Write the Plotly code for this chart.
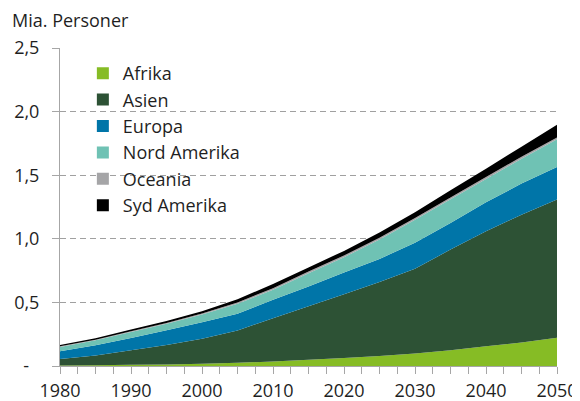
import plotly.graph_objects as go

years = [1980, 1985, 1990, 1995, 2000, 2005, 2010, 2015, 2020, 2025, 2030, 2035, 2040, 2045, 2050]

afrika = [0.004, 0.006, 0.009, 0.012, 0.017, 0.025, 0.036, 0.049, 0.063, 0.078, 0.098, 0.124, 0.155, 0.185, 0.222]
asien = [0.051, 0.077, 0.115, 0.154, 0.197, 0.255, 0.339, 0.421, 0.502, 0.582, 0.667, 0.791, 0.905, 1.005, 1.086]
europa = [0.061, 0.080, 0.097, 0.115, 0.130, 0.130, 0.145, 0.155, 0.170, 0.182, 0.203, 0.210, 0.227, 0.244, 0.257]
nord_amerika = [0.034, 0.039, 0.047, 0.051, 0.061, 0.080, 0.080, 0.105, 0.120, 0.153, 0.182, 0.185, 0.183, 0.196, 0.217]
oceania = [0.005, 0.005, 0.006, 0.007, 0.008, 0.010, 0.011, 0.012, 0.013, 0.013, 0.013, 0.014, 0.015, 0.015, 0.015]
syd_amerika = [0.010, 0.011, 0.013, 0.015, 0.018, 0.024, 0.034, 0.033, 0.037, 0.042, 0.045, 0.057, 0.066, 0.079, 0.100]

series_names = ["Afrika", "Asien", "Europa", "Nord Amerika", "Oceania", "Syd Amerika"]
series_values = [afrika, asien, europa, nord_amerika, oceania, syd_amerika]
series_colors = ["#86bc25", "#2d5235", "#0075a8", "#6fc2b4", "#a5a5a7", "#000000"]

y_tickvals = [0, 0.5, 1.0, 1.5, 2.0, 2.5]
y_ticktext = ["-\u2007", "0,5", "1,0", "1,5", "2,0", "2,5"]
x_tickvals = [1980, 1990, 2000, 2010, 2020, 2030, 2040, 2050]

FONT = "Open Sans, Noto Sans, sans-serif"
TXT = "#1f1f1f"
AXC = "#a6a6a6"

# page body has an 8px default margin, so the figure is sized/offset to fit the window
W, H = 572, 393

fig = go.Figure()
for name, vals, col in zip(series_names, series_values, series_colors):
    fig.add_trace(go.Scatter(
        x=years, y=vals, name=name, stackgroup="one", mode="none",
        fillcolor=col, showlegend=False,
    ))
for name, col in zip(series_names, series_colors):
    fig.add_trace(go.Scatter(
        x=[None], y=[None], name=name, mode="markers", legendgroup=name,
        marker=dict(symbol="square", size=12, color=col),
    ))

fig.update_layout(
    width=W, height=H,
    margin=dict(l=52, r=23, t=40, b=35),
    paper_bgcolor="white", plot_bgcolor="white",
    font=dict(family=FONT, size=18, color=TXT),
    title=dict(text="Mia. Personer", x=4 / W, xanchor="left", xref="container",
               y=1 - 13 / H, yanchor="middle", yref="container",
               pad=dict(l=0, r=0, t=0, b=0),
               font=dict(family=FONT, size=18, color=TXT)),
    legend=dict(x=0.046, y=0.978, xanchor="left", yanchor="top",
                traceorder="grouped", tracegroupgap=0,
                bgcolor="rgba(0,0,0,0)", font=dict(family=FONT, size=18, color=TXT)),
    xaxis=dict(range=[1980, 2050], tickvals=x_tickvals, ticks="outside", ticklen=7,
               tickcolor=AXC, showline=True, linecolor=AXC, linewidth=1,
               showgrid=False, zeroline=False, automargin=False, ticklabelstandoff=1,
               minor=dict(dtick=2.5, tick0=1980, ticks="outside", ticklen=7, tickcolor=AXC, showgrid=False),
               tickfont=dict(family=FONT, size=18, color=TXT)),
    yaxis=dict(range=[0, 2.5], tickvals=y_tickvals, ticktext=y_ticktext, ticks="outside",
               ticklen=7, tickcolor=AXC, showline=True, linecolor=AXC, linewidth=1,
               showgrid=True, gridcolor="#a0a0a0", griddash="6px,4px", gridwidth=1,
               zeroline=False, ticklabelstandoff=9, automargin=False,
               tickfont=dict(family=FONT, size=18, color=TXT)),
)

fig.write_html("out.html")
